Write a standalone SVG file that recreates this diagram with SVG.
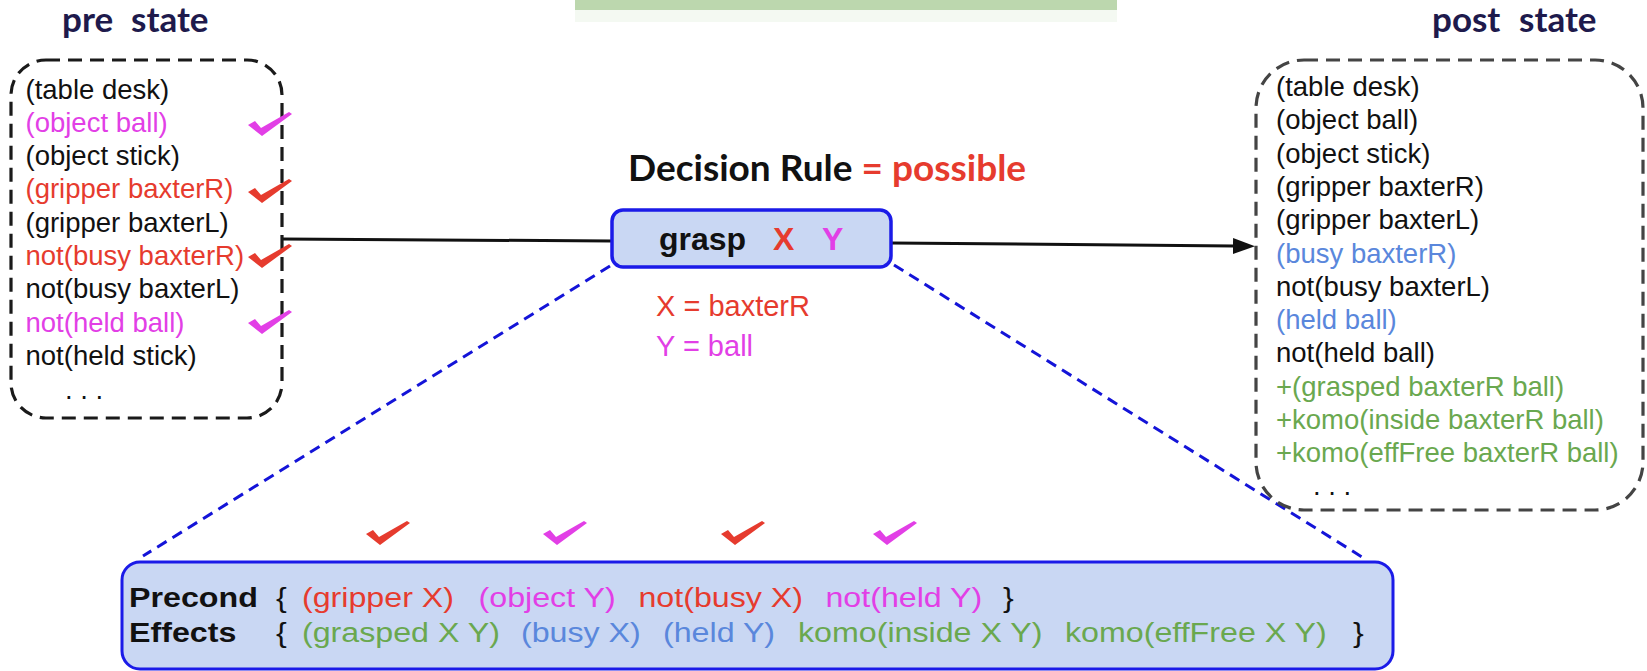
<svg xmlns="http://www.w3.org/2000/svg" width="1647" height="671" viewBox="0 0 1647 671">
<style>
.hdr{font-family:Lato,"Liberation Sans",sans-serif;font-weight:700;font-size:35px;fill:#1e1a4c}
.st{font-family:"Liberation Sans",Arial,sans-serif;font-size:27.5px;fill:#111}
.bx{font-family:"Liberation Sans",Arial,sans-serif;font-size:28px;fill:#111}
.b{font-weight:700}
.red{fill:#e63b2e}
.mag{fill:#e23fe6}
.blu{fill:#5a87dc}
.grn{fill:#6aa84f}
.dashbox{fill:none;stroke-width:3.2;stroke-dasharray:14 8}
.blue-box{fill:#c9d7f3;stroke:#1b1be8;stroke-width:3.5}
.zoom{fill:none;stroke:#1414d8;stroke-width:3;stroke-dasharray:11 7}
.conn{stroke:#111;stroke-width:3;fill:none}
</style>
<defs>
<path id="chk" d="M0,13 L7,9 L13,16 L41,0 L44,2 L14,24 Z"/>
<marker id="arrow" markerUnits="userSpaceOnUse" markerWidth="23" markerHeight="16" refX="1" refY="8" orient="auto">
<path d="M0,0 L22,8 L0,16 Z" fill="#111"/>
</marker>
</defs>

<g id="title-bar">
<rect x="575" y="10" width="542" height="12" fill="#f4f9f2"/>
<rect x="575" y="0" width="542" height="10" fill="#bcd7ae"/>
</g>

<g id="connectors">
<line class="conn" x1="282" y1="239" x2="612" y2="241"/>
<line class="conn" x1="891" y1="243" x2="1234" y2="246" marker-end="url(#arrow)"/>
<line class="zoom" x1="610" y1="266" x2="143" y2="556"/>
<line class="zoom" x1="894" y1="265" x2="1362" y2="557"/>
</g>

<g id="pre-state">
<text class="hdr" x="62" y="32">pre</text>
<text class="hdr" x="131" y="32">state</text>
<rect class="dashbox" x="11" y="60" width="271" height="358" rx="35" ry="35" stroke="#1a1a1a"/>
<g class="st">
<text x="25.5" y="98.5">(table desk)</text>
<text x="25.5" y="131.8" class="mag">(object ball)</text>
<text x="25.5" y="165.1">(object stick)</text>
<text x="25.5" y="198.4" class="red">(gripper baxterR)</text>
<text x="25.5" y="231.7">(gripper baxterL)</text>
<text x="25.5" y="265" class="red">not(busy baxterR)</text>
<text x="25.5" y="298.3">not(busy baxterL)</text>
<text x="25.5" y="331.6" class="mag">not(held ball)</text>
<text x="25.5" y="364.9">not(held stick)</text>
<text x="65" y="398.5">. . .</text>
</g>
<use href="#chk" x="248" y="112" class="mag"/>
<use href="#chk" x="248" y="179" class="red"/>
<use href="#chk" x="248" y="244" class="red"/>
<use href="#chk" x="248" y="310" class="mag"/>
</g>

<g id="post-state">
<text class="hdr" x="1432" y="32">post</text>
<text class="hdr" x="1519" y="32">state</text>
<rect class="dashbox" x="1256" y="60" width="387" height="450" rx="48" ry="48" stroke="#444"/>
<g class="st">
<text x="1276" y="96">(table desk)</text>
<text x="1276" y="129.3">(object ball)</text>
<text x="1276" y="162.6">(object stick)</text>
<text x="1276" y="195.9">(gripper baxterR)</text>
<text x="1276" y="229.2">(gripper baxterL)</text>
<text x="1276" y="262.5" class="blu">(busy baxterR)</text>
<text x="1276" y="295.8">not(busy baxterL)</text>
<text x="1276" y="329.1" class="blu">(held ball)</text>
<text x="1276" y="362.4">not(held ball)</text>
<text x="1276" y="395.7" class="grn">+(grasped baxterR ball)</text>
<text x="1276" y="429" class="grn">+komo(inside baxterR ball)</text>
<text x="1276" y="462.3" class="grn">+komo(effFree baxterR ball)</text>
<text x="1313" y="495">. . .</text>
</g>
</g>

<g id="decision-rule">
<text class="hdr" x="628" y="181" style="fill:#111;font-size:37px">Decision Rule <tspan class="red">= possible</tspan></text>
</g>

<g id="grasp-node">
<rect class="blue-box" x="612" y="210" width="279" height="57" rx="11" ry="11"/>
<text class="bx b" x="659" y="250" style="font-size:32px">grasp</text>
<text class="bx b red" x="773" y="250" style="font-size:32px">X</text>
<text class="bx b mag" x="822" y="250" style="font-size:32px">Y</text>
</g>

<g id="bindings">
<text class="bx red" x="656" y="316" style="font-size:29px">X = baxterR</text>
<text class="bx mag" x="656" y="356" style="font-size:29px">Y = ball</text>
</g>

<g id="schema">
<rect class="blue-box" x="122" y="562" width="1271" height="107" rx="18" ry="18" style="stroke-width:3"/>
<use href="#chk" x="366" y="521" class="red"/>
<use href="#chk" x="543" y="521" class="mag"/>
<use href="#chk" x="721" y="521" class="red"/>
<use href="#chk" x="873" y="521" class="mag"/>
<g transform="scale(1.15,1)" class="bx">
<text x="112.2" y="607" class="b">Precond</text>
<text x="240" y="607">{</text>
<text x="262.6" y="607" class="red">(gripper X)</text>
<text x="416.1" y="607" class="mag">(object Y)</text>
<text x="555.2" y="607" class="red">not(busy X)</text>
<text x="717.8" y="607" class="mag">not(held Y)</text>
<text x="872.2" y="607">}</text>
<text x="112.2" y="642" class="b">Effects</text>
<text x="240" y="642">{</text>
<text x="262.6" y="642" class="grn">(grasped X Y)</text>
<text x="453" y="642" class="blu">(busy X)</text>
<text x="576.5" y="642" class="blu">(held Y)</text>
<text x="693.9" y="642" class="grn">komo(inside X Y)</text>
<text x="926.1" y="642" class="grn">komo(effFree X Y)</text>
<text x="1176.5" y="642">}</text>
</g>
</g>
</svg>
